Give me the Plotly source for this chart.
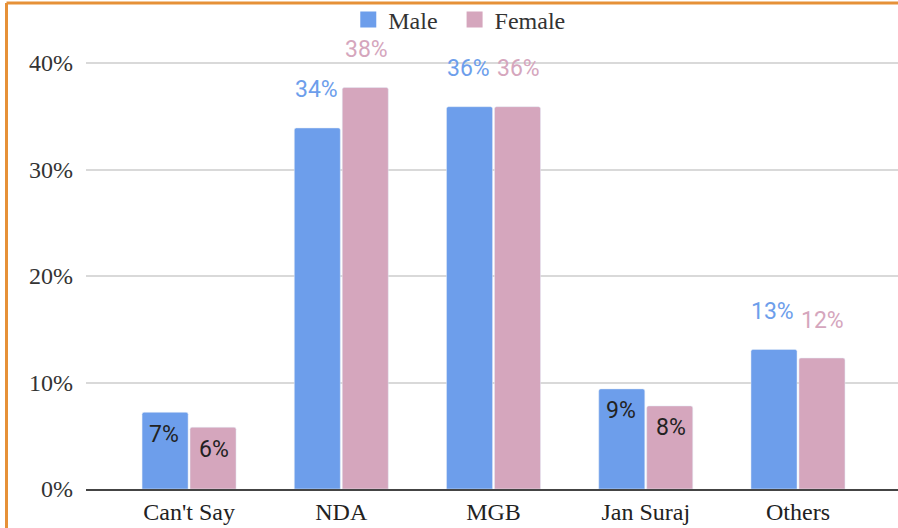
import plotly.graph_objects as go

categories = ["Can't Say", "NDA", "MGB", "Jan Suraj", "Others"]
male = [0.072, 0.339, 0.359, 0.094, 0.131]
female = [0.058, 0.377, 0.359, 0.078, 0.123]
male_labels = ["7%", "34%", "36%", "9%", "13%"]
female_labels = ["6%", "38%", "36%", "8%", "12%"]
label_inside = [True, False, False, True, False]
series_names = ["Male", "Female"]

BLUE = "#6d9eeb"
PINK = "#d5a6bd"

fig = go.Figure()
fig.add_trace(go.Bar(x=categories, y=male, name=series_names[0], marker=dict(color=BLUE, cornerradius=2),
                     showlegend=False, hoverinfo="skip"))
fig.add_trace(go.Bar(x=categories, y=female, name=series_names[1], marker=dict(color=PINK, cornerradius=2),
                     showlegend=False, hoverinfo="skip"))
# legend entries
fig.add_trace(go.Scatter(x=[None], y=[None], mode="markers", name=series_names[0] + "\u00a0\u00a0",
                         marker=dict(symbol="square", size=16, color=BLUE)))
fig.add_trace(go.Scatter(x=[None], y=[None], mode="markers", name=series_names[1],
                         marker=dict(symbol="square", size=16, color=PINK)))

annotations = []
for i, c in enumerate(categories):
    for vals, labs, shift, col in ((male, male_labels, -25, BLUE), (female, female_labels, 25, PINK)):
        inside = label_inside[i]
        annotations.append(dict(
            x=c, y=vals[i], xref="x", yref="y", text=labs[i], showarrow=False,
            xshift=shift, yshift=(-22 if inside else 38), yanchor="middle",
            font=dict(family="Roboto", size=23, color=("#222222" if inside else col)),
        ))

fig.update_layout(
    width=898, height=528,
    margin=dict(l=86, r=0, t=30, b=39, autoexpand=False),
    plot_bgcolor="white", paper_bgcolor="white",
    barmode="group", bargap=0.37, bargroupgap=0.04,
    font=dict(family="Liberation Serif", size=24, color="#222222"),
    legend=dict(orientation="h", x=0.323, xanchor="left", y=1.022, yanchor="middle",
                font=dict(family="Liberation Serif", size=24, color="#333333"),
                itemsizing="trace", itemwidth=30, tracegroupgap=0, traceorder="normal",
                bgcolor="rgba(0,0,0,0)"),
    annotations=annotations,
    shapes=[
        dict(type="line", xref="paper", yref="paper", x0=-0.0979, x1=1.05, y0=1.0588, y1=1.0588,
             line=dict(color="#e69138", width=3)),
        dict(type="line", xref="paper", yref="paper", x0=-0.0979, x1=-0.0979, y0=1.0588, y1=-0.1,
             line=dict(color="#e69138", width=3)),
    ],
)
fig.update_xaxes(range=[-0.677, 4.657], showline=True, linecolor="#444444", linewidth=1.5,
                 ticks="", tickfont=dict(family="Liberation Serif", size=24, color="#222222"),
                 showgrid=False, zeroline=False)
fig.update_yaxes(range=[0, 0.431], dtick=0.1, tickformat=".0%", showgrid=True,
                 gridcolor="#d9d9d9", gridwidth=1.5, zeroline=False, ticks="",
                 ticklabelstandoff=12,
                 tickfont=dict(family="Liberation Serif", size=24, color="#333333"))

post = ("document.body.style.margin='0px';document.body.style.overflow='hidden';"
        "Plotly.Plots.resize(document.getElementById('{plot_id}'));")
fig.write_html("out.html", post_script=post, config={"displayModeBar": False})
